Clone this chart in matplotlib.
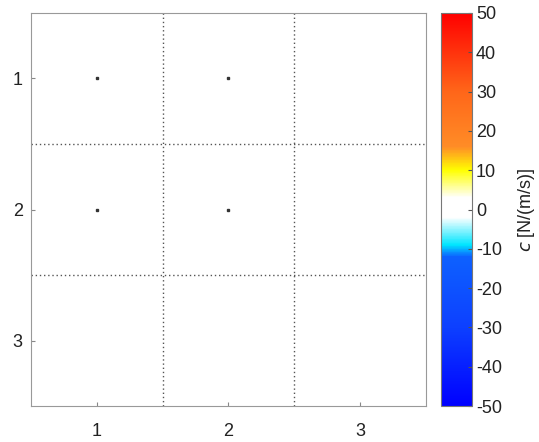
import numpy as np
import matplotlib
matplotlib.use('Agg')
import matplotlib.pyplot as plt
from matplotlib.colors import LinearSegmentedColormap

plt.rcParams['font.family'] = ['Liberation Sans', 'DejaVu Sans']
plt.rcParams['axes.unicode_minus'] = False

# damping matrix values (all zero) and positions of the marked entries
c_values = np.array([[0, 0, 0],
                     [0, 0, 0],
                     [0, 0, 0]])
marked_rows = [1, 1, 2, 2]
marked_cols = [1, 2, 1, 2]
tick_pos = [1, 2, 3]
cbar_ticks = [-50, -40, -30, -20, -10, 0, 10, 20, 30, 40, 50]
vmin, vmax = -50, 50

# custom colormap: blue -> cyan -> white -> yellow -> orange -> red
nodes = [(-50, (0.0, 0.0, 1.0)),
         (-30, (0.05, 0.25, 1.0)),
         (-12, (0.05, 0.38, 1.0)),
         (-9, (0.0, 0.9, 1.0)),
         (-2, (1.0, 1.0, 1.0)),
         (3, (1.0, 1.0, 1.0)),
         (10, (1.0, 1.0, 0.0)),
         (16, (1.0, 0.55, 0.15)),
         (30, (1.0, 0.4, 0.1)),
         (50, (1.0, 0.0, 0.0))]
cmap = LinearSegmentedColormap.from_list(
    'damp', [((v - vmin) / (vmax - vmin), col) for v, col in nodes], N=512)

fig = plt.figure(figsize=(5.39, 4.42), dpi=100)
ax = fig.add_axes([0.0575, 0.0814, 0.7325, 0.8892])
cax = fig.add_axes([0.818, 0.0814, 0.0575, 0.8892])

im = ax.imshow(c_values, cmap=cmap, vmin=vmin, vmax=vmax,
               extent=[0.5, 3.5, 3.5, 0.5], aspect='auto', interpolation='nearest')

# dotted cell boundaries
for b in [1.5, 2.5]:
    ax.axvline(b, color='#555555', linestyle=(0, (1, 2)), linewidth=1.0)
    ax.axhline(b, color='#555555', linestyle=(0, (1, 2)), linewidth=1.0)

ax.plot(marked_cols, marked_rows, linestyle='none', marker='s', markersize=2,
        color='#333333')

ax.set_xlim(0.5, 3.5)
ax.set_ylim(3.5, 0.5)
ax.set_xticks(tick_pos)
ax.set_yticks(tick_pos)
ax.tick_params(direction='in', length=3, color='#888888', labelsize=13,
               labelcolor='#222222')
ax.tick_params(axis='x', pad=12)
ax.tick_params(axis='y', pad=6)
for s in ax.spines.values():
    s.set_color('#999999')

cb = fig.colorbar(im, cax=cax, ticks=cbar_ticks)
cb.ax.tick_params(direction='in', length=3, color='#555555', labelsize=13,
                  labelcolor='#222222', pad=3)
cb.outline.set_edgecolor('#777777')
cb.set_label(r'$\it{c}$ [N/(m/s)]', fontsize=13, color='#222222', labelpad=10)

fig.savefig('out.png', dpi=100)
